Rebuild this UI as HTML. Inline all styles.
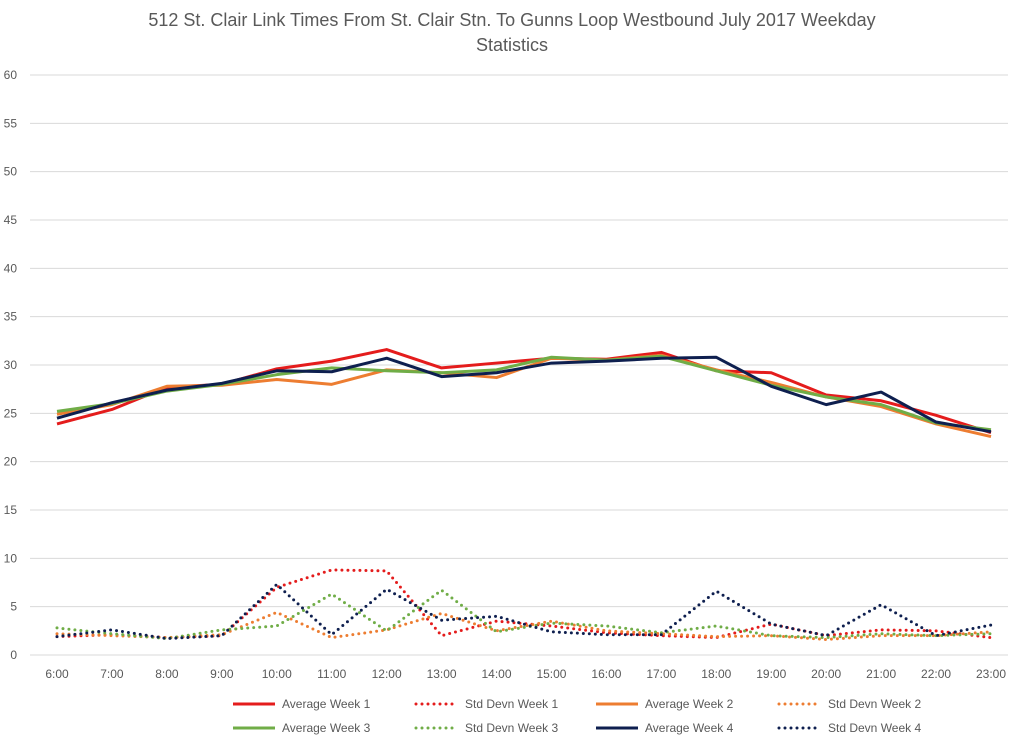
<!DOCTYPE html>
<html><head><meta charset="utf-8">
<style>
body{margin:0;background:#fff;}
svg{display:block;font-family:"Liberation Sans",sans-serif;}
</style></head><body>
<svg id="chart" width="1024" height="743">
<text x="512" y="26" text-anchor="middle" font-size="18" fill="#595959">512 St. Clair Link Times From St. Clair Stn. To Gunns Loop Westbound July 2017 Weekday</text>
<text x="512" y="51" text-anchor="middle" font-size="18" fill="#595959">Statistics</text>
<g id="grid"></g><g id="series"></g><g id="legend"></g>
</svg>
<script>
const categories=["6:00","7:00","8:00","9:00","10:00","11:00","12:00","13:00","14:00","15:00","16:00","17:00","18:00","19:00","20:00","21:00","22:00","23:00"];
const yTicks=[0,5,10,15,20,25,30,35,40,45,50,55,60];
const avgW1=[23.9,25.4,27.7,28.0,29.6,30.4,31.6,29.7,30.2,30.7,30.6,31.3,29.4,29.2,26.9,26.3,24.8,23.0];
const avgW2=[24.9,25.9,27.8,27.9,28.5,28.0,29.5,29.2,28.7,30.7,30.5,31.0,29.5,28.2,26.7,25.7,23.9,22.6];
const avgW3=[25.2,26.0,27.3,28.0,29.0,29.7,29.4,29.2,29.5,30.8,30.5,30.9,29.4,27.9,26.7,25.9,24.0,23.3];
const avgW4=[24.5,26.1,27.4,28.1,29.4,29.3,30.7,28.8,29.2,30.2,30.4,30.7,30.8,27.8,25.9,27.2,24.1,23.1];
const sdW1=[1.9,2.1,1.8,2.0,7.0,8.8,8.7,2.0,3.5,3.0,2.3,2.0,1.8,3.2,2.0,2.6,2.5,1.8];
const sdW2=[2.2,2.0,1.8,2.1,4.4,1.8,2.6,4.3,2.5,3.5,2.5,2.2,1.9,2.0,1.6,2.0,2.0,2.4];
const sdW3=[2.8,2.2,1.7,2.6,3.0,6.3,2.5,6.7,2.4,3.3,3.0,2.3,3.0,2.0,1.8,2.2,2.0,2.2];
const sdW4=[1.9,2.6,1.7,2.0,7.3,2.1,6.8,3.6,4.0,2.4,2.1,2.1,6.6,3.2,2.0,5.2,2.0,3.1];
const seriesNames=["Average Week 1","Std Devn Week 1","Average Week 2","Std Devn Week 2","Average Week 3","Std Devn Week 3","Average Week 4","Std Devn Week 4"];
const seriesData=[avgW1,sdW1,avgW2,sdW2,avgW3,sdW3,avgW4,sdW4];
const colors=["#e41c1c","#e41c1c","#ed7d31","#ed7d31","#70ad47","#70ad47","#0e1f4f","#0e1f4f"];
const NS="http://www.w3.org/2000/svg";
const x0=57,x1=991,yBase=655,yTop=75;
const xs=i=>x0+i*(x1-x0)/(categories.length-1);
const ys=v=>yBase-v*(yBase-yTop)/60;
function mk(t,a,p){const e=document.createElementNS(NS,t);for(const k in a)e.setAttribute(k,a[k]);p.appendChild(e);return e;}
const grid=document.getElementById('grid');
yTicks.forEach(v=>{
 const l=mk('line',{x1:30,x2:1008,y1:ys(v),y2:ys(v),stroke:'#d9d9d9','stroke-width':1},grid);
 
 
 const t=mk('text',{x:17,y:ys(v)+4,'text-anchor':'end','font-size':12,fill:'#595959'},grid);
 t.textContent=v;
 
 
});
categories.forEach((c,i)=>{
 const t=mk('text',{x:xs(i),y:678,'text-anchor':'middle','font-size':12,fill:'#595959'},grid);
 t.textContent=c;
 
 
});
const sg=document.getElementById('series');
seriesData.forEach((d,k)=>{
 const dotted=k%2===1;
 const p=mk('polyline',{points:d.map((v,i)=>xs(i)+','+ys(v)).join(' '),fill:'none',stroke:colors[k],'stroke-width':3,'stroke-linejoin':'round','stroke-linecap':dotted?'round':'butt','stroke-dasharray':dotted?'0 6':'none'},sg);
 
 
});
const lg=document.getElementById('legend');
const lx=[233,416,596,779];
seriesData.forEach((d,k)=>{
 const row=Math.floor(k/4),col=k%4,dotted=k%2===1;
 const y=row?728:704,x=lx[col];
 const g=mk('g',{},lg);
 
 
 mk('line',{x1:x,x2:x+42,y1:y,y2:y,stroke:colors[k],'stroke-width':3,'stroke-linecap':dotted?'round':'butt','stroke-dasharray':dotted?'0 6':'none'},g);
 const t=mk('text',{x:x+49,y:y+4,'font-size':12,fill:'#595959'},g);
 t.textContent=seriesNames[k];
});
</script>
</body></html>
